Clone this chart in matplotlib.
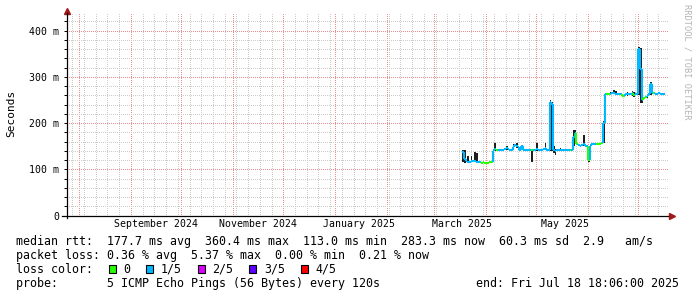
import numpy as np
import pandas as pd
import matplotlib
matplotlib.use("Agg")
import matplotlib.pyplot as plt
import matplotlib.dates as mdates
import matplotlib.transforms as mtransforms
from matplotlib.collections import LineCollection
from matplotlib.patches import Rectangle

# time window of the yearly smokeping view
view_start = "2024-07-24 20:00"
view_end = "2025-07-18 18:06"
data_start = "2025-03-18"

# median rtt per day (ms), starting at data_start
median_ms = [
    137, 122, 118, 116, 115, 118, 119, 118, 117, 117,
    115, 114, 115, 114, 114, 114, 115, 116, 140, 144,
    142, 141, 143, 142, 141, 145, 146, 144, 142, 143,
    148, 152, 150, 148, 143, 150, 143, 142, 141, 143,
    142, 142, 142, 143, 145, 142, 141, 142, 144, 147,
    143, 142, 245, 242, 143, 140, 142, 141, 143, 142,
    141, 142, 143, 141, 142, 143, 170, 178, 155, 152,
    151, 153, 155, 151, 150, 120, 150, 155, 154, 156,
    155, 154, 156, 157, 200, 262, 263, 262, 264, 265,
    266, 264, 263, 262, 264, 259, 259, 262, 264, 263,
    262, 265, 261, 263, 262, 360, 316, 250, 254, 256,
    258, 262, 284, 266, 265, 264, 263, 265, 262, 264,
    263,
]
# days where no packets were lost (green), all other days 1/5
green_days = [11, 12, 13, 14, 15, 16, 17, 20, 41, 64, 68, 75, 80, 81, 82, 83,
              86, 87, 95, 96, 102, 108, 109, 114]

# smoke sticking out of the median line: day, low ms, high ms
smoke_day = [0, 1, 3, 5, 7, 8, 18, 19, 26, 30, 32, 35, 41, 44, 49, 52, 53, 54, 55,
             58, 66, 67, 72, 75, 84, 88, 90, 91, 98, 101, 102, 105, 106, 107, 110,
             112, 113]
smoke_lo = [117, 113, 114, 115, 115, 116, 116, 140, 142, 145, 146, 143, 117, 140,
            141, 140, 140, 135, 131, 140, 150, 160, 150, 117, 157, 260, 262, 262,
            259, 258, 257, 260, 243, 243, 254, 260, 262]
smoke_hi = [141, 142, 128, 130, 138, 136, 142, 158, 150, 155, 157, 153, 143, 157,
            158, 250, 246, 150, 145, 147, 185, 186, 174, 150, 205, 268, 272, 270,
            267, 270, 268, 364, 362, 256, 262, 288, 270]

loss_labels = ["0", "1/5", "2/5", "3/5", "4/5"]
loss_colors = ["#26ff00", "#00b8ff", "#dd00ff", "#5e00ff", "#ff0000"]

month_labels = ["September 2024", "November 2024", "January 2025", "March 2025", "May 2025"]
month_label_dates = ["2024-09-16", "2024-11-16", "2025-01-15", "2025-03-18", "2025-05-18"]

y_major = [0, 100, 200, 300, 400]

legend_rows = [
    "median rtt:  177.7 ms avg  360.4 ms max  113.0 ms min  283.3 ms now  60.3 ms sd  2.9   am/s",
    "packet loss: 0.36 % avg  5.37 % max  0.00 % min  0.21 % now",
]
probe_text = "probe:       5 ICMP Echo Pings (56 Bytes) every 120s"
end_text = "end: Fri Jul 18 18:06:00 2025"

W, H = 697, 297
MONO = "DejaVu Sans Mono"
plt.rcParams["font.family"] = MONO

fig = plt.figure(figsize=(W / 100, H / 100), dpi=100)
fig.patch.set_facecolor("white")
ax = fig.add_axes([67 / W, (H - 215.7) / H, (668 - 67) / W, (215.7 - 13) / H])

# x positions: day edges of the samples
edges = pd.date_range(data_start, periods=len(median_ms) + 1, freq="D")
t = mdates.date2num(edges.to_pydatetime())
loss = [0 if d in green_days else 1 for d in range(len(median_ms))]

# smoke
for d, lo, hi in zip(smoke_day, smoke_lo, smoke_hi):
    ax.fill_between([t[d], t[d + 1]], lo, hi, color="#1e1e1e", lw=0, zorder=3)

# median line, coloured by loss (step style like rrdtool)
segs, cols = [], []
for i, m in enumerate(median_ms):
    segs.append([(t[i], m), (t[i + 1], m)])
    cols.append(loss_colors[loss[i]])
    if i + 1 < len(median_ms):
        segs.append([(t[i + 1], m), (t[i + 1], median_ms[i + 1])])
        cols.append(loss_colors[loss[i + 1]])
ax.add_collection(LineCollection(segs, colors=cols, linewidths=1.5, zorder=4))

ax.set_xlim(mdates.date2num(pd.Timestamp(view_start)), mdates.date2num(pd.Timestamp(view_end)))
ax.set_ylim(0, 438)

# grid, crisp dotted lines like rrdtool
ax.xaxis.set_major_locator(mdates.MonthLocator())
ax.xaxis.set_minor_locator(mdates.WeekdayLocator(byweekday=mdates.SU))
ax.set_yticks(y_major)
ax.set_yticks([v for v in range(0, 440, 20) if v % 100], minor=True)
ax.grid(which="minor", color="#cccccc", lw=0.72, ls=(0, (1, 1.5)))
ax.grid(which="major", color="#ec8c8c", lw=0.72, ls=(0, (1, 1.5)))
ax.set_axisbelow(True)
for axis in (ax.xaxis, ax.yaxis):
    for tk in axis.get_minor_ticks() + axis.get_major_ticks():
        tk.gridline.set_antialiased(False)

ax.set_xticklabels([])
ax.tick_params(axis="x", which="both", length=0)
ax.set_yticklabels(["0" if v == 0 else f"{v} m" for v in y_major], fontsize=7.1)
ax.tick_params(axis="y", which="both", length=2, width=0.7, pad=3.5, direction="out")

for s in ax.spines.values():
    s.set_visible(False)

# axes with arrows
ax.plot([-0.009, 1.0], [0, 0], transform=ax.transAxes, color="black", lw=0.9,
        clip_on=False, zorder=5)
ax.plot([0, 0], [-0.012, 1.0], transform=ax.transAxes, color="black", lw=0.9,
        clip_on=False, zorder=5)
ax.plot(1.006, 0, marker=">", ms=4, color="#a01818", transform=ax.transAxes, clip_on=False)
ax.plot(0, 1.012, marker="^", ms=4, color="#a01818", transform=ax.transAxes, clip_on=False)

# month labels
trans = mtransforms.blended_transform_factory(ax.transData, ax.transAxes)
for lab, d in zip(month_labels, month_label_dates):
    ax.text(mdates.date2num(pd.Timestamp(d)), -0.043, lab, transform=trans,
            ha="center", va="center", fontsize=7.1)

fig.text(11 / W, 1 - 113.5 / H, "Seconds", rotation=90, ha="center", va="center", fontsize=8)
fig.text(687 / W, 1 - 4 / H, "RRDTOOL / TOBI OETIKER", rotation=270, ha="center", va="top",
         fontsize=6.2, color="#b4b4b4")

# legend
fs = 8.4
row_y = [241.3, 255.3, 269.3, 283.7]
for txt, y in zip(legend_rows, row_y[:2]):
    fig.text(16 / W, 1 - y / H, txt, ha="left", va="center", fontsize=fs)
fig.text(16 / W, 1 - row_y[2] / H, "loss color:", ha="left", va="center", fontsize=fs)
box_x = [108.5, 146, 197.5, 249, 300.5]
for bx, lab, c in zip(box_x, loss_labels, loss_colors):
    fig.add_artist(Rectangle((bx / W, 1 - 272.5 / H), 7 / W, 8 / H, transform=fig.transFigure,
                             facecolor=c, edgecolor="black", lw=0.8))
    fig.text((bx + 15) / W, 1 - row_y[2] / H, lab, ha="left", va="center", fontsize=fs)
fig.text(16 / W, 1 - row_y[3] / H, probe_text, ha="left", va="center", fontsize=fs)
fig.text(679.5 / W, 1 - row_y[3] / H, end_text, ha="right", va="center", fontsize=fs)

fig.savefig("out.png", dpi=100)
